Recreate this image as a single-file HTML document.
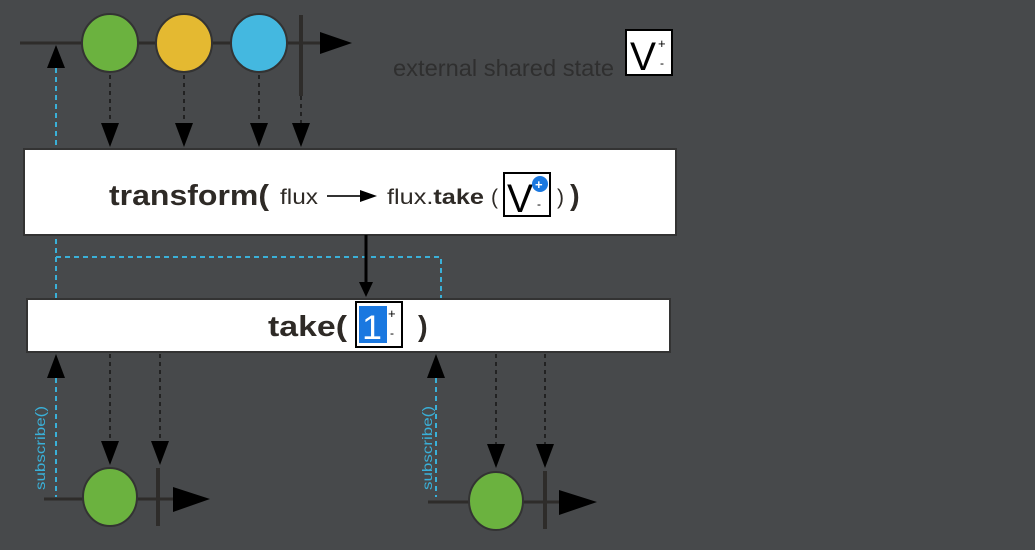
<!DOCTYPE html>
<html><head><meta charset="utf-8"><style>
html,body{margin:0;padding:0;background:#47494b;}
svg{display:block;font-family:"Liberation Sans","DejaVu Sans",sans-serif;}
</style></head><body>
<svg width="1035" height="550" viewBox="0 0 1035 550">
<rect width="1035" height="550" fill="#47494b"/>
<!-- top timeline -->
<line x1="20" y1="43" x2="322" y2="43" stroke="#2e2c2a" stroke-width="3"/>
<polygon points="320,32 352,43 320,54" fill="#000"/>
<line x1="301" y1="15" x2="301" y2="96" stroke="#2e2c2a" stroke-width="4"/>
<ellipse cx="110" cy="43" rx="28" ry="29" fill="#6bb23f" stroke="#333" stroke-width="2"/>
<ellipse cx="184" cy="43" rx="28" ry="29" fill="#e4b931" stroke="#333" stroke-width="2"/>
<ellipse cx="259" cy="43" rx="28" ry="29" fill="#44b8e0" stroke="#333" stroke-width="2"/>
<g stroke="#222" stroke-width="2" stroke-dasharray="4,4">
<line x1="110" y1="75" x2="110" y2="125"/><line x1="184" y1="75" x2="184" y2="125"/>
<line x1="259" y1="75" x2="259" y2="125"/><line x1="301" y1="96" x2="301" y2="125"/>
</g>
<g fill="#000">
<polygon points="101,123 119,123 110,147"/><polygon points="175,123 193,123 184,147"/>
<polygon points="250,123 268,123 259,147"/><polygon points="292,123 310,123 301,147"/>
</g>
<g stroke="#3ab0d8" stroke-width="2" stroke-dasharray="5,4" fill="none">
<line x1="56" y1="68" x2="56" y2="299"/>
<polyline points="56,257 441,257 441,299"/>
<line x1="56" y1="378" x2="56" y2="497"/>
<line x1="436" y1="378" x2="436" y2="497"/>
</g>
<polygon points="47,68 65,68 56,45" fill="#000"/>
<text x="393" y="76" font-size="23" fill="#2f2f2f" textLength="221" lengthAdjust="spacingAndGlyphs">external shared state</text>
<rect x="626" y="30" width="46" height="45" fill="#fff" stroke="#000" stroke-width="2"/>
<text x="630" y="70" font-size="40" fill="#000" textLength="26" lengthAdjust="spacingAndGlyphs">V</text>
<text x="658" y="48" font-size="13" fill="#000">+</text>
<text x="660" y="67" font-size="12" fill="#000">-</text>
<!-- box 1 -->
<rect x="24" y="149" width="652" height="86" fill="#fff" stroke="#333" stroke-width="2"/>
<text x="109" y="205" font-size="29" font-weight="bold" fill="#2e2a26" textLength="160" lengthAdjust="spacingAndGlyphs">transform(</text>
<text x="280" y="204" font-size="21" fill="#2e2a26" textLength="38" lengthAdjust="spacingAndGlyphs">flux</text>
<line x1="327" y1="196" x2="364" y2="196" stroke="#333" stroke-width="2"/>
<polygon points="360,190 377,196 360,202" fill="#000"/>
<text x="387" y="204" font-size="21" fill="#2e2a26" textLength="97" lengthAdjust="spacingAndGlyphs">flux.<tspan font-weight="bold">take</tspan></text>
<text x="491" y="204" font-size="21" fill="#2e2a26">(</text>
<rect x="504" y="173" width="46" height="43" fill="#fff" stroke="#000" stroke-width="2"/>
<text x="507" y="212" font-size="40" fill="#000" textLength="26" lengthAdjust="spacingAndGlyphs">V</text>
<circle cx="540" cy="184" r="8" fill="#1a78e0"/>
<text x="535" y="189" font-size="13" fill="#fff" font-weight="bold">+</text>
<text x="537" y="208" font-size="12" fill="#000">-</text>
<text x="557" y="204" font-size="21" fill="#2e2a26">)</text>
<text x="570" y="205" font-size="29" font-weight="bold" fill="#2e2a26">)</text>
<line x1="366" y1="235" x2="366" y2="285" stroke="#000" stroke-width="3"/>
<polygon points="359,282 373,282 366,297" fill="#000"/>
<!-- box 2 -->
<rect x="27" y="299" width="643" height="53" fill="#fff" stroke="#333" stroke-width="2"/>
<text x="268" y="336" font-size="29" font-weight="bold" fill="#2e2a26" textLength="79" lengthAdjust="spacingAndGlyphs">take(</text>
<rect x="356" y="302" width="46" height="45" fill="#fff" stroke="#000" stroke-width="2"/>
<rect x="359" y="306" width="28" height="37" fill="#1a78e0"/>
<text x="362" y="339" font-size="34" fill="#fff" textLength="20" lengthAdjust="spacingAndGlyphs">1</text>
<text x="388" y="318" font-size="13" fill="#000">+</text>
<text x="390" y="337" font-size="12" fill="#000">-</text>
<text x="418" y="336" font-size="29" font-weight="bold" fill="#2e2a26">)</text>
<polygon points="47,378 65,378 56,354" fill="#000"/>
<polygon points="427,378 445,378 436,354" fill="#000"/>
<g stroke="#222" stroke-width="2" stroke-dasharray="4,4">
<line x1="110" y1="354" x2="110" y2="442"/><line x1="160" y1="354" x2="160" y2="442"/>
<line x1="496" y1="354" x2="496" y2="445"/><line x1="545" y1="354" x2="545" y2="445"/>
</g>
<g fill="#000">
<polygon points="101,441 119,441 110,465"/><polygon points="151,441 169,441 160,465"/>
<polygon points="487,444 505,444 496,468"/><polygon points="536,444 554,444 545,468"/>
</g>
<line x1="44" y1="499" x2="176" y2="499" stroke="#2e2c2a" stroke-width="3"/>
<polygon points="173,487 210,499 173,512" fill="#000"/>
<line x1="158" y1="468" x2="158" y2="526" stroke="#2e2c2a" stroke-width="4"/>
<ellipse cx="110" cy="497" rx="27" ry="29" fill="#6bb23f" stroke="#333" stroke-width="2"/>
<line x1="428" y1="502" x2="562" y2="502" stroke="#2e2c2a" stroke-width="3"/>
<polygon points="559,490 597,502 559,515" fill="#000"/>
<line x1="545" y1="471" x2="545" y2="529" stroke="#2e2c2a" stroke-width="4"/>
<ellipse cx="496" cy="501" rx="27" ry="29" fill="#6bb23f" stroke="#333" stroke-width="2"/>
<text transform="translate(45,490) rotate(-90)" font-size="14" fill="#3ab0d8" textLength="84" lengthAdjust="spacingAndGlyphs">subscribe()</text>
<text transform="translate(432,490) rotate(-90)" font-size="14" fill="#3ab0d8" textLength="84" lengthAdjust="spacingAndGlyphs">subscribe()</text>
</svg>
</body></html>
